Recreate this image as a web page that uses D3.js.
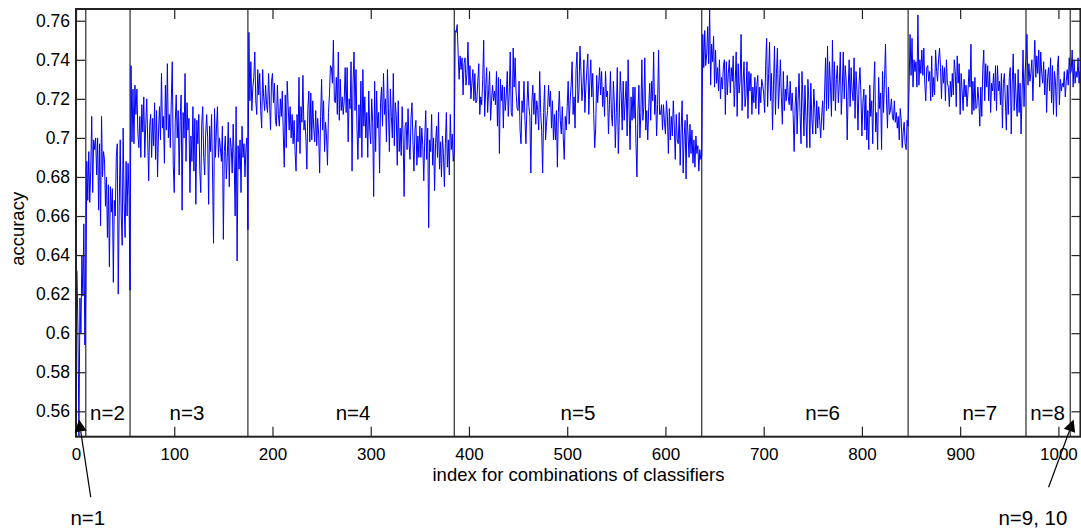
<!DOCTYPE html>
<html>
<head>
<meta charset="utf-8">
<title>accuracy for combinations of classifiers</title>
<script src="https://cdnjs.cloudflare.com/ajax/libs/d3/7.8.5/d3.min.js"></script>
<style>
  body { margin: 0; background: #fff; }
  svg text { font-family: "Liberation Sans", Arial, Helvetica, sans-serif; fill: #000; }
</style>
</head>
<body>
<svg id="chart" width="1081" height="531"></svg>
<script>
// accuracy of each combination, one array per group size n
const accN1 = [0.632, 0.601, 0.547, 0.618, 0.600, 0.640, 0.619, 0.656, 0.594, 0.620];
const accN2 = [0.688, 0.668, 0.693, 0.667, 0.683, 0.711, 0.672, 0.699, 0.694, 0.700,
  0.681, 0.700, 0.663, 0.697, 0.655, 0.711, 0.680, 0.693, 0.689, 0.665,
  0.680, 0.649, 0.676, 0.634, 0.675, 0.662, 0.674, 0.626, 0.668, 0.660,
  0.690, 0.697, 0.620, 0.665, 0.699, 0.661, 0.645, 0.705, 0.667, 0.649,
  0.688, 0.660, 0.687, 0.670, 0.622];
const accN3 = [0.737, 0.698, 0.725, 0.697, 0.727, 0.712, 0.725, 0.702, 0.695, 0.711,
  0.690, 0.717, 0.703, 0.721, 0.690, 0.707, 0.720, 0.699, 0.678, 0.706,
  0.712, 0.690, 0.710, 0.696, 0.718, 0.689, 0.714, 0.680, 0.703, 0.716,
  0.699, 0.733, 0.705, 0.711, 0.687, 0.727, 0.704, 0.738, 0.700, 0.712,
  0.695, 0.719, 0.739, 0.686, 0.672, 0.708, 0.722, 0.700, 0.714, 0.681,
  0.709, 0.722, 0.663, 0.713, 0.700, 0.733, 0.688, 0.718, 0.704, 0.710,
  0.672, 0.701, 0.688, 0.716, 0.683, 0.710, 0.666, 0.709, 0.697, 0.712,
  0.683, 0.672, 0.707, 0.716, 0.690, 0.681, 0.702, 0.712, 0.700, 0.666,
  0.706, 0.693, 0.712, 0.681, 0.646, 0.715, 0.690, 0.705, 0.716, 0.690,
  0.700, 0.695, 0.688, 0.706, 0.648, 0.693, 0.701, 0.679, 0.690, 0.708,
  0.675, 0.700, 0.695, 0.682, 0.707, 0.689, 0.660, 0.716, 0.637, 0.696,
  0.684, 0.699, 0.672, 0.706, 0.690, 0.697, 0.680, 0.695, 0.700, 0.653];
const accN4 = [0.754, 0.719, 0.739, 0.714, 0.726, 0.731, 0.744, 0.719, 0.712, 0.735,
  0.722, 0.733, 0.714, 0.705, 0.735, 0.721, 0.714, 0.727, 0.717, 0.713,
  0.733, 0.719, 0.704, 0.729, 0.733, 0.718, 0.728, 0.709, 0.706, 0.727,
  0.712, 0.706, 0.720, 0.711, 0.724, 0.702, 0.685, 0.722, 0.695, 0.729,
  0.716, 0.704, 0.716, 0.700, 0.712, 0.697, 0.709, 0.693, 0.683, 0.712,
  0.698, 0.731, 0.692, 0.716, 0.708, 0.732, 0.704, 0.709, 0.700, 0.684,
  0.715, 0.724, 0.698, 0.723, 0.699, 0.719, 0.705, 0.698, 0.714, 0.696,
  0.710, 0.702, 0.682, 0.711, 0.730, 0.704, 0.719, 0.693, 0.708, 0.701,
  0.686, 0.713, 0.722, 0.737, 0.736, 0.728, 0.750, 0.719, 0.718, 0.731,
  0.712, 0.744, 0.709, 0.730, 0.714, 0.721, 0.712, 0.719, 0.736, 0.713,
  0.736, 0.698, 0.720, 0.715, 0.739, 0.683, 0.728, 0.744, 0.714, 0.735,
  0.705, 0.689, 0.717, 0.700, 0.729, 0.690, 0.735, 0.706, 0.721, 0.700,
  0.713, 0.690, 0.724, 0.704, 0.697, 0.720, 0.708, 0.670, 0.729, 0.693,
  0.724, 0.705, 0.713, 0.682, 0.718, 0.726, 0.706, 0.733, 0.712, 0.720,
  0.698, 0.735, 0.715, 0.693, 0.725, 0.711, 0.700, 0.733, 0.696, 0.718,
  0.712, 0.686, 0.719, 0.693, 0.705, 0.691, 0.716, 0.700, 0.670, 0.706,
  0.708, 0.694, 0.715, 0.697, 0.689, 0.710, 0.718, 0.698, 0.683, 0.704,
  0.709, 0.686, 0.701, 0.690, 0.706, 0.690, 0.705, 0.696, 0.678, 0.700,
  0.714, 0.689, 0.705, 0.654, 0.699, 0.693, 0.712, 0.686, 0.700, 0.673,
  0.697, 0.706, 0.690, 0.713, 0.684, 0.698, 0.680, 0.701, 0.692, 0.675,
  0.697, 0.713, 0.685, 0.699, 0.681, 0.712, 0.694, 0.702, 0.688, 0.693];
const accN5 = [0.755, 0.754, 0.758, 0.743, 0.730, 0.742, 0.735, 0.741, 0.722, 0.738,
  0.741, 0.727, 0.733, 0.749, 0.727, 0.737, 0.720, 0.728, 0.735, 0.719,
  0.733, 0.718, 0.719, 0.729, 0.738, 0.712, 0.721, 0.717, 0.730, 0.750,
  0.711, 0.725, 0.736, 0.713, 0.724, 0.734, 0.709, 0.719, 0.727, 0.719,
  0.724, 0.717, 0.734, 0.706, 0.731, 0.692, 0.730,
  0.719, 0.727, 0.705, 0.726, 0.714, 0.722, 0.734, 0.711, 0.723, 0.744,
  0.713, 0.711, 0.746, 0.726, 0.741, 0.723, 0.715, 0.714, 0.729, 0.704,
  0.697, 0.719, 0.713, 0.729, 0.709, 0.697, 0.716,
  0.729, 0.716, 0.711, 0.682, 0.718, 0.727, 0.712, 0.723, 0.707, 0.719,
  0.714, 0.704, 0.734, 0.713, 0.704, 0.682, 0.713, 0.727, 0.699, 0.708,
  0.714, 0.727, 0.716, 0.724, 0.705, 0.719, 0.699,
  0.712, 0.699, 0.714, 0.685, 0.713, 0.724, 0.709, 0.702, 0.716, 0.700,
  0.689, 0.711, 0.704, 0.716, 0.729, 0.707, 0.719, 0.727, 0.739, 0.712,
  0.721, 0.705, 0.735, 0.744, 0.718, 0.724, 0.747,
  0.734, 0.719, 0.726, 0.740, 0.713, 0.726, 0.735, 0.743, 0.712, 0.729,
  0.740, 0.721, 0.733, 0.712, 0.695, 0.705, 0.732, 0.718, 0.727, 0.736,
  0.722, 0.734, 0.716, 0.726, 0.711, 0.734, 0.721,
  0.724, 0.702, 0.717, 0.734, 0.712, 0.706, 0.729, 0.718, 0.695, 0.713,
  0.736, 0.692, 0.710, 0.734, 0.722, 0.704, 0.729, 0.709, 0.719, 0.729,
  0.701, 0.740, 0.714, 0.694, 0.721, 0.709, 0.726,
  0.710, 0.726, 0.697, 0.680, 0.714, 0.727, 0.700, 0.713, 0.740, 0.709,
  0.716, 0.741, 0.704, 0.714, 0.699, 0.716, 0.728, 0.709, 0.729, 0.719,
  0.744, 0.712, 0.722, 0.701, 0.717, 0.745, 0.712,
  0.712, 0.717, 0.704, 0.717, 0.708, 0.702, 0.719, 0.711, 0.692, 0.715,
  0.699, 0.711, 0.701, 0.719, 0.706, 0.689, 0.712, 0.699, 0.697, 0.713,
  0.686, 0.705, 0.719, 0.682, 0.700, 0.709, 0.679, 0.712, 0.702, 0.690,
  0.707, 0.692, 0.704, 0.687, 0.699, 0.685, 0.701, 0.692, 0.696, 0.683,
  0.694, 0.689, 0.691];
const accN6 = [0.753, 0.736, 0.755, 0.737, 0.743, 0.757, 0.738, 0.766, 0.727, 0.748,
  0.739, 0.752, 0.726, 0.745, 0.728, 0.736, 0.724, 0.740, 0.720, 0.731,
  0.725, 0.737,
  0.740, 0.712, 0.739, 0.722, 0.733, 0.740, 0.723, 0.736, 0.729, 0.742,
  0.716, 0.728, 0.744, 0.711, 0.738, 0.723, 0.729, 0.753, 0.714, 0.728,
  0.739, 0.716, 0.722, 0.739, 0.710, 0.734, 0.724, 0.733, 0.712, 0.726,
  0.718, 0.731, 0.715, 0.727, 0.732, 0.712, 0.726, 0.718, 0.730, 0.727,
  0.723,
  0.713, 0.737, 0.751, 0.716, 0.733, 0.749, 0.719, 0.733, 0.704, 0.727,
  0.747, 0.712, 0.733, 0.746, 0.715, 0.726, 0.740, 0.721, 0.707, 0.734,
  0.714, 0.725, 0.719, 0.732, 0.721, 0.717, 0.729, 0.714, 0.723, 0.712,
  0.693, 0.716, 0.726, 0.702, 0.719, 0.733, 0.713, 0.697, 0.734, 0.719,
  0.701, 0.727, 0.711, 0.695, 0.730, 0.719, 0.695, 0.728, 0.710, 0.702,
  0.725, 0.715, 0.702, 0.719, 0.705, 0.716, 0.709, 0.700, 0.711, 0.719,
  0.704, 0.723, 0.741, 0.714,
  0.747, 0.715, 0.739, 0.726, 0.711, 0.750, 0.719, 0.739, 0.714, 0.730,
  0.737, 0.718, 0.728, 0.744, 0.712, 0.725, 0.744, 0.720, 0.737, 0.729,
  0.699, 0.724, 0.740, 0.716, 0.736, 0.724, 0.719, 0.741, 0.710, 0.734,
  0.724, 0.704, 0.727, 0.736,
  0.722, 0.701, 0.718, 0.725, 0.704, 0.722, 0.699, 0.714, 0.694, 0.727,
  0.711, 0.719, 0.697, 0.725, 0.739, 0.703, 0.713, 0.694, 0.731, 0.715,
  0.723, 0.694, 0.734, 0.713, 0.730, 0.748, 0.720, 0.705, 0.726, 0.712,
  0.714, 0.720, 0.711, 0.709, 0.719, 0.708, 0.713, 0.705, 0.711, 0.699,
  0.715, 0.709, 0.695, 0.703, 0.708, 0.697, 0.694, 0.709, 0.706];
const accN7 = [0.726, 0.753, 0.732, 0.751, 0.726, 0.740, 0.734, 0.739, 0.726, 0.763,
  0.727, 0.740, 0.733, 0.745, 0.732, 0.746, 0.728, 0.719, 0.736,
  0.737, 0.729, 0.734, 0.719, 0.742, 0.721, 0.731, 0.722, 0.745, 0.734,
  0.729, 0.740, 0.746, 0.736, 0.720, 0.737, 0.728, 0.736, 0.719, 0.740,
  0.728,
  0.726, 0.716, 0.729, 0.721, 0.733, 0.722, 0.740, 0.734, 0.716, 0.742,
  0.728, 0.738, 0.712, 0.733, 0.724, 0.714, 0.730, 0.721, 0.727, 0.716,
  0.724, 0.735, 0.726,
  0.748, 0.712, 0.729, 0.714, 0.731, 0.715, 0.716, 0.726, 0.719, 0.706,
  0.726, 0.711, 0.735, 0.745, 0.719, 0.738, 0.726, 0.737, 0.719, 0.734,
  0.713, 0.728, 0.724, 0.733,
  0.719, 0.737, 0.714, 0.737, 0.724, 0.729, 0.717, 0.733, 0.705, 0.728,
  0.733, 0.719, 0.704, 0.727, 0.712, 0.731, 0.736, 0.702, 0.728, 0.743,
  0.714, 0.733, 0.720, 0.711, 0.735, 0.713, 0.728, 0.702, 0.722, 0.745,
  0.716, 0.733, 0.741];
const accN8 = [0.753, 0.727, 0.738, 0.729, 0.733, 0.740, 0.719, 0.736, 0.750, 0.731,
  0.742, 0.733, 0.745, 0.726, 0.744, 0.733, 0.728, 0.739, 0.722, 0.735,
  0.713, 0.731, 0.736, 0.724, 0.741, 0.718, 0.737, 0.712, 0.734, 0.729,
  0.711, 0.736, 0.742, 0.717, 0.730, 0.724, 0.728, 0.726, 0.734, 0.721,
  0.729, 0.735, 0.727, 0.741, 0.733];
const accN9 = [0.734, 0.745, 0.726, 0.740, 0.728, 0.734, 0.731, 0.741, 0.728, 0.734];
const accN10 = [0.730];

const groups = [accN1, accN2, accN3, accN4, accN5, accN6, accN7, accN8, accN9, accN10];

// group labels drawn inside the plot, centred at these index values
const groupLabels = ["n=2", "n=3", "n=4", "n=5", "n=6", "n=7", "n=8"];
const groupLabelX = [32, 113, 282, 511, 760, 920, 989];

// arrows for the groups that are too narrow to label inside
const arrowNotes = [
  { text: "n=1", textX: 12, tip: [3, 0.5558], tail: [15, 0.5161] },
  { text: "n=9, 10", textX: 974, tip: [1015.5, 0.5558], tail: [990, 0.5211] }
];

const xTickValues = [0, 100, 200, 300, 400, 500, 600, 700, 800, 900, 1000];
const yTickValues = [0.56, 0.58, 0.6, 0.62, 0.64, 0.66, 0.68, 0.7, 0.72, 0.74, 0.76];

const svg = d3.select("#chart");
const width = +svg.attr("width");
const height = +svg.attr("height");
const margin = { top: 9, right: 0, bottom: 94.3, left: 76 };

// flatten the groups into (index, accuracy) points, index counted from 1
const points = [];
const groupEnds = [];
let count = 0;
groups.forEach(g => {
  g.forEach(v => {
    count += 1;
    points.push({ idx: count, acc: v });
  });
  groupEnds.push(count);
});

const x = d3.scaleLinear()
  .domain([0, count])
  .range([margin.left, width - margin.right]);

const y = d3.scaleLinear()
  .domain(d3.extent(points, d => d.acc))
  .range([height - margin.bottom, margin.top]);

const x0 = x.range()[0], x1 = x.range()[1];
const y0 = y.range()[0], y1 = y.range()[1];

// group separators
svg.append("g")
  .selectAll("line")
  .data(groupEnds.slice(0, -1))
  .join("line")
  .attr("x1", d => x(d))
  .attr("x2", d => x(d))
  .attr("y1", y1)
  .attr("y2", y0)
  .attr("stroke", "#000")
  .attr("stroke-width", 1);

// accuracy line
const line = d3.line()
  .x(d => x(d.idx))
  .y(d => y(d.acc));

svg.append("path")
  .datum(points)
  .attr("fill", "none")
  .attr("stroke", "#0000ff")
  .attr("stroke-width", 1)
  .attr("stroke-linejoin", "round")
  .attr("d", line);

// axes, ticks pointing inwards like the original
const fmtY = d => String(+d.toFixed(2));
const fmtX = d3.format("d");

const xAxis = svg.append("g")
  .attr("transform", `translate(0,${y0})`)
  .call(d3.axisBottom(x).tickValues(xTickValues).tickSize(-10).tickSizeOuter(0).tickPadding(11).tickFormat(fmtX));
xAxis.selectAll("text").attr("font-size", "17px");

svg.append("g")
  .attr("transform", `translate(0,${y1})`)
  .call(d3.axisTop(x).tickValues(xTickValues).tickSize(-10).tickSizeOuter(0).tickFormat(""));

const yAxis = svg.append("g")
  .attr("transform", `translate(${x0},0)`)
  .call(d3.axisLeft(y).tickValues(yTickValues).tickSize(-9).tickSizeOuter(0).tickPadding(6).tickFormat(fmtY));
yAxis.selectAll("text").attr("font-size", "17.5px");

svg.append("g")
  .attr("transform", `translate(${x1 - 0.5},0)`)
  .call(d3.axisRight(y).tickValues(yTickValues).tickSize(-9).tickSizeOuter(0).tickFormat(""));

svg.selectAll(".domain").remove();
svg.selectAll(".tick line").attr("stroke", "#222").attr("stroke-width", 1.2);

// axes box
svg.append("rect")
  .attr("x", x0)
  .attr("y", y1)
  .attr("width", x1 - x0)
  .attr("height", y0 - y1)
  .attr("fill", "none")
  .attr("stroke", "#222")
  .attr("stroke-width", 2);

// axis titles
svg.append("text")
  .attr("x", (x0 + x1) / 2)
  .attr("y", y0 + 44)
  .attr("text-anchor", "middle")
  .attr("font-size", "18.5px")
  .text("index for combinations of classifiers");

svg.append("text")
  .attr("transform", `translate(24,${(y0 + y1) / 2 + 6}) rotate(-90)`)
  .attr("text-anchor", "middle")
  .attr("font-size", "18.5px")
  .text("accuracy");

// n=k labels inside the plot
svg.append("g")
  .selectAll("text")
  .data(groupLabels)
  .join("text")
  .attr("x", (d, i) => x(groupLabelX[i]))
  .attr("y", y0 - 16.5)
  .attr("text-anchor", "middle")
  .attr("font-size", "20.5px")
  .text(d => d);

// arrows with filled heads
const notes = svg.append("g");
arrowNotes.forEach(a => {
  const tx = x(a.tip[0]), ty = y(a.tip[1]);
  const sx = x(a.tail[0]), sy = y(a.tail[1]);
  const len = Math.hypot(tx - sx, ty - sy);
  const ux = (tx - sx) / len, uy = (ty - sy) / len;
  const headL = 12, headW = 6;
  const bx = tx - ux * headL, by = ty - uy * headL;

  notes.append("line")
    .attr("x1", sx).attr("y1", sy)
    .attr("x2", bx).attr("y2", by)
    .attr("stroke", "#000")
    .attr("stroke-width", 1.2);

  notes.append("path")
    .attr("d", `M${tx},${ty}L${bx - uy * headW},${by + ux * headW}L${bx + uy * headW},${by - ux * headW}Z`)
    .attr("fill", "#000");

  notes.append("text")
    .attr("x", x(a.textX))
    .attr("y", height - 6)
    .attr("text-anchor", "middle")
    .attr("font-size", "20.5px")
    .text(a.text);
});
</script>
</body>
</html>
